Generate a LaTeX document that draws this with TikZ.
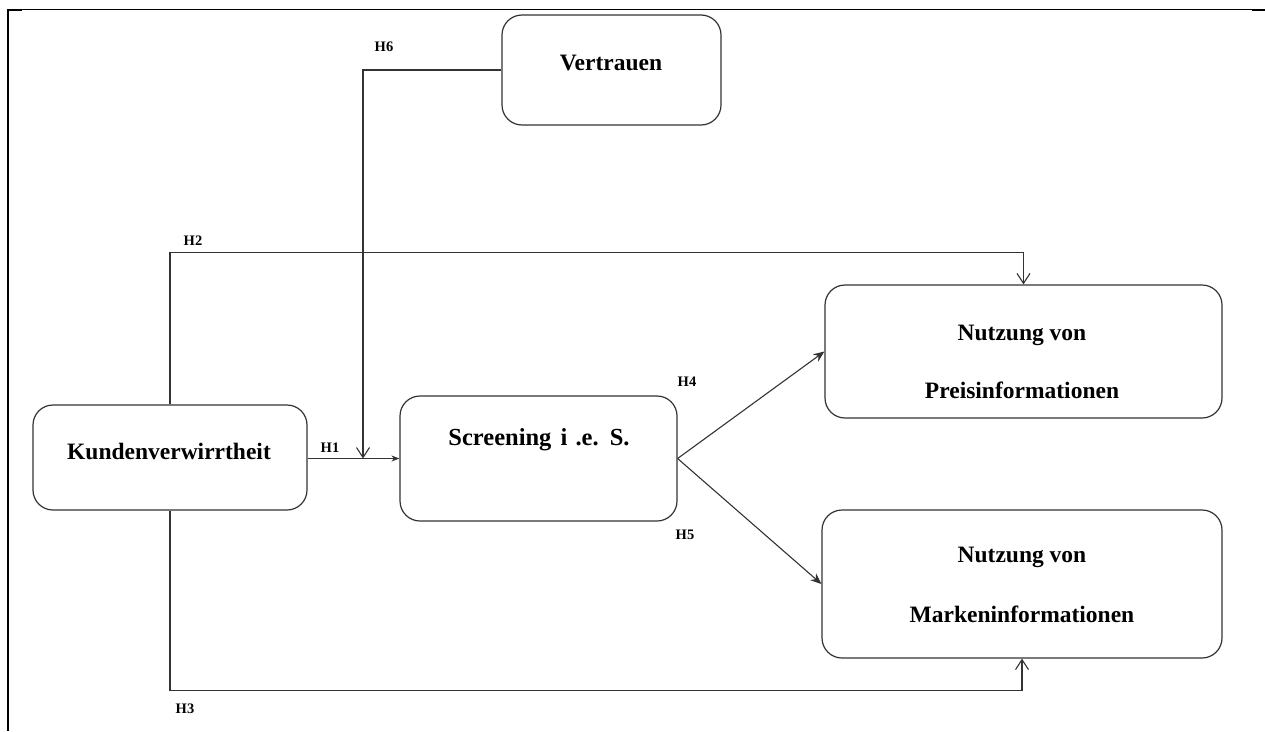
\documentclass[tikz,border=0pt]{standalone}
\usepackage{fontspec}
\setmainfont{Liberation Serif}
\usetikzlibrary{arrows.meta}
\definecolor{lc}{HTML}{333333}
\tikzset{
  boxst/.style={draw=lc, line width=1.2pt, rounded corners=20pt, inner sep=0pt, minimum width=#1},
  boxst/.default=100pt,
  btext/.style={font=\fontsize{23.5}{27}\selectfont\bfseries, inner sep=0pt, anchor=center},
  hlab/.style={font=\fontsize{14.5}{16}\selectfont\bfseries, inner sep=0pt, anchor=center},
  conn/.style={draw=lc, line width=1.1pt},
  filltip/.style={-{Stealth[length=11pt,width=9pt]}},
  smalltip/.style={-{Stealth[length=8pt,width=6pt]}},
  opentip/.style={-{Straight Barb[length=10pt,width=13pt,line width=1.1pt]}},
}
\begin{document}
\begin{tikzpicture}[x=1pt,y=-1pt]
\useasboundingbox (0,0) rectangle (1265,731);
% frame
\draw[line width=1.3pt] (8,9.5) -- (1252,9.5);
\draw[line width=2.4pt] (8,9) -- (8,731);
\draw[line width=2.4pt] (8,10) -- (22,10);
\draw[line width=2.4pt] (1252,10) -- (1265,10);
% boxes
\node[boxst=274pt, minimum height=105pt] (kv) at (170,457.5) {};
\node[boxst=277pt, minimum height=125pt] (sc) at (538.5,458.5) {};
\node[boxst=219pt, minimum height=110pt] (vt) at (611.5,70) {};
\node[boxst=397pt, minimum height=133pt] (np) at (1023.5,351.5) {};
\node[boxst=400pt, minimum height=148pt] (nm) at (1022,584) {};
% box texts
\node[btext] (kvt) at (169,451) {Kundenverwirrtheit};
\node[btext, font=\fontsize{24.5}{27}\selectfont\bfseries] (sct) at (539,440) {Screening\hspace{3pt} i\hspace{2pt} .e.\hspace{3pt} S.};
\node[btext] (vtt) at (611,63) {Vertrauen};
\node[btext] (npt1) at (1022,335) {Nutzung von};
\node[btext] (npt2) at (1022,390) {Preisinformationen};
\node[btext] (nmt1) at (1022,557) {Nutzung von};
\node[btext] (nmt2) at (1022,614) {Markeninformationen};
% connectors
\coordinate (j) at (363,458.5);
\draw[conn,smalltip] (kv.east |- j) -- (sc.west |- j);
\draw[conn,opentip] (vt.west) -| (j);
\draw[conn,opentip] (kv.north) -- ++(0,-152) -| (np.north);
\draw[conn,opentip] (kv.south) -- ++(0,180) -| (nm.south);
\draw[conn,filltip] (sc.east) -- (np.west);
\draw[conn,filltip] (sc.east) -- (nm.west);
% labels
\node[hlab] (h1) at (330,447.5) {H1};
\node[hlab] (h6) at (384,47) {H6};
\node[hlab] (h2) at (193,241) {H2};
\node[hlab] (h3) at (185,709) {H3};
\node[hlab] (h4) at (687,382) {H4};
\node[hlab] (h5) at (685,535) {H5};
\end{tikzpicture}
\end{document}
